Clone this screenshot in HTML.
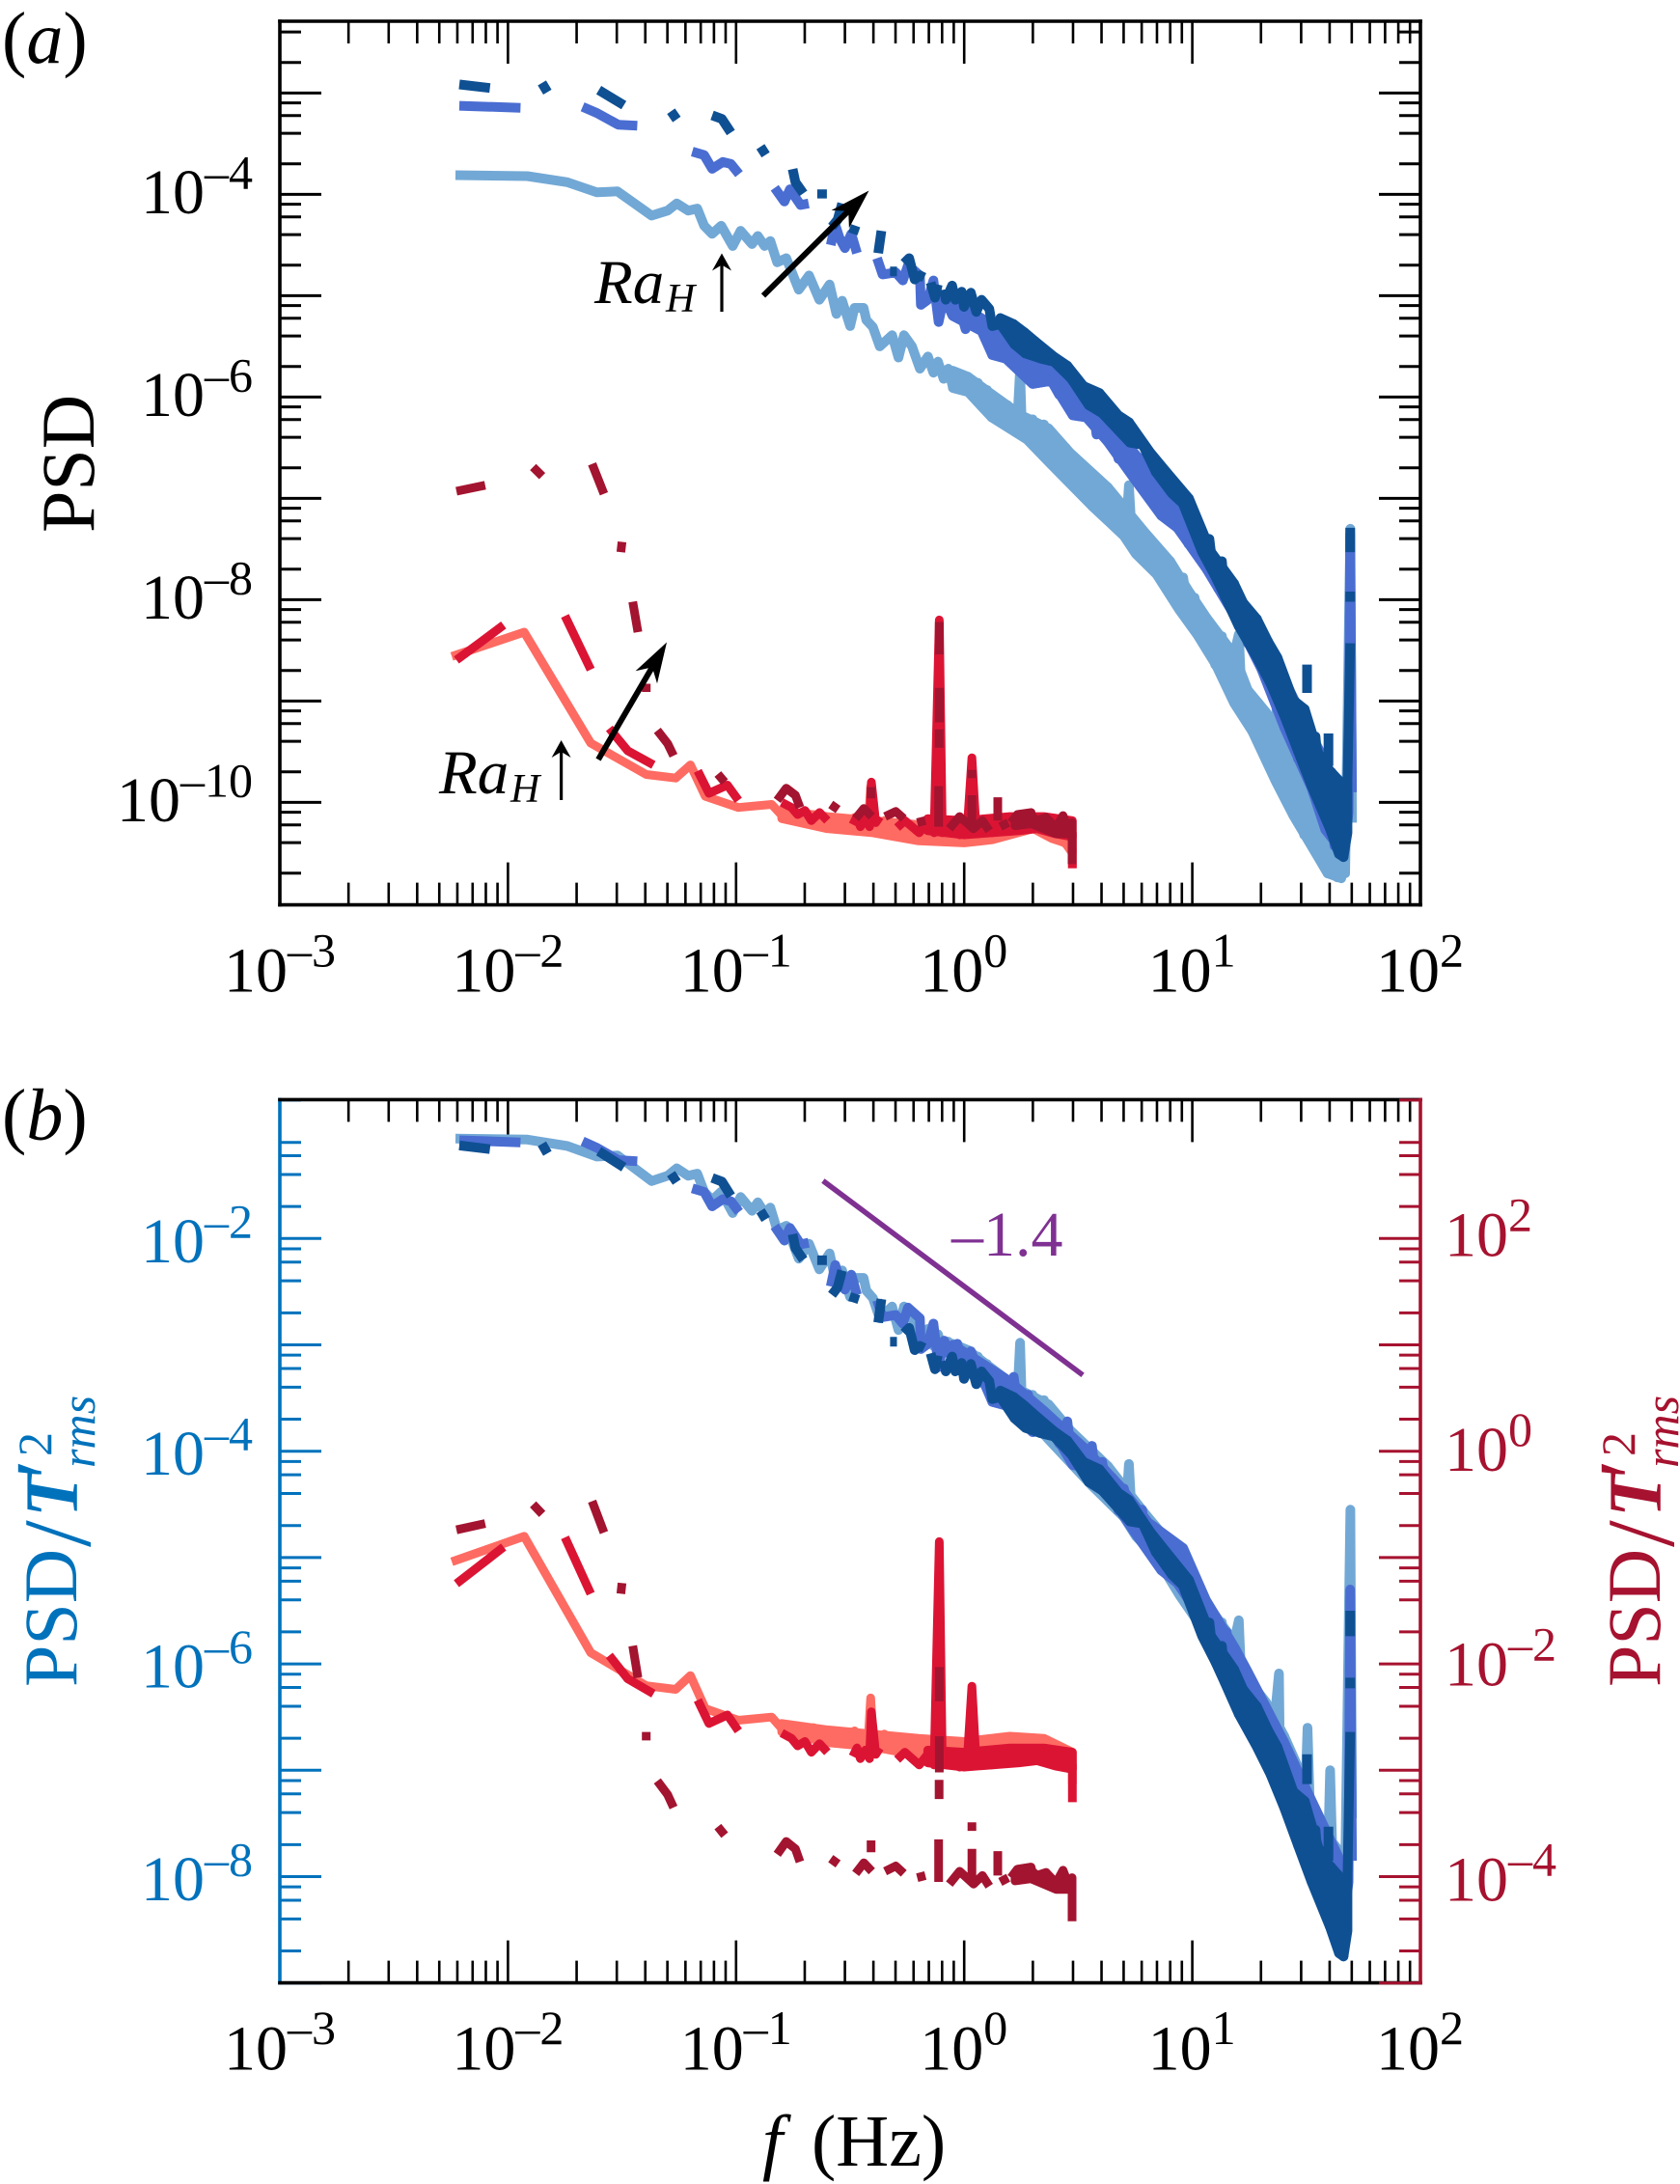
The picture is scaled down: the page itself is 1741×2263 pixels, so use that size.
<!DOCTYPE html>
<html lang="en">
<head>
<meta charset="utf-8">
<title>PSD spectra</title>
<style>
html,body{margin:0;padding:0;background:#fff;}
svg{display:block;}
text{font-family:"Liberation Serif","DejaVu Serif",serif;}
</style>
</head>
<body>
<svg id="chart" xmlns="http://www.w3.org/2000/svg" width="1741" height="2263" viewBox="0 0 1741 2263">
  <rect x="0" y="0" width="1741" height="2263" fill="#fff"/>
  <g id="panelA"></g>
  <g id="panelB"></g>

  <text x="2" y="65" font-size="76" fill="#000">(<tspan font-style="italic">a</tspan>)</text>
  <text x="2" y="1181" font-size="76" fill="#000">(<tspan font-style="italic">b</tspan>)</text>

  <text transform="rotate(-90 97 552)" x="97" y="552" font-size="78" fill="#000">PSD</text>

  <g fill="#0072BC">
    <text transform="rotate(-90 79 1748)" x="79" y="1748" font-size="78">PSD</text>
    <text transform="rotate(-90 93 1603)" x="93" y="1603" font-size="100">/</text>
    <text transform="rotate(-90 80 1572)" x="80" y="1572" font-size="78" font-style="italic" font-weight="bold">T</text>
    <text transform="rotate(-90 78 1532)" x="78" y="1532" font-size="90">′</text>
    <text transform="rotate(-90 53 1509)" x="53" y="1509" font-size="50">2</text>
    <text transform="rotate(-90 98 1521)" x="98" y="1521" font-size="50" font-style="italic">rms</text>
  </g>
  <g fill="#A6122F">
    <text transform="rotate(-90 1720 1748)" x="1720" y="1748" font-size="78">PSD</text>
    <text transform="rotate(-90 1734 1603)" x="1734" y="1603" font-size="100">/</text>
    <text transform="rotate(-90 1721 1572)" x="1721" y="1572" font-size="78" font-style="italic" font-weight="bold">T</text>
    <text transform="rotate(-90 1719 1532)" x="1719" y="1532" font-size="90">′</text>
    <text transform="rotate(-90 1694 1509)" x="1694" y="1509" font-size="50">2</text>
    <text transform="rotate(-90 1739 1521)" x="1739" y="1521" font-size="50" font-style="italic">rms</text>
  </g>

  <text x="790" y="2244" font-size="76" fill="#000"><tspan font-style="italic">f</tspan></text>
  <text x="841" y="2244" font-size="76" fill="#000">(Hz)</text>

  <text x="986" y="1301" font-size="66" fill="#7F3192">–1.4</text>

  <g fill="#000">
    <text x="616" y="314" font-size="65" font-style="italic">Ra</text>
    <text x="690" y="323" font-size="42" font-style="italic">H</text>
  </g>
  <g fill="#000">
    <text x="455" y="822" font-size="65" font-style="italic">Ra</text>
    <text x="529" y="831" font-size="42" font-style="italic">H</text>
  </g>
  <g id="arrows"></g>
</svg>

<script>
// Every pair is [log10 frequency (Hz), log10 PSD]; null marks a gap in a dashed line.
const lightBlueSeries = [
[-2.23,-3.81],[-1.915,-3.82],[-1.74,-3.88],[-1.61,-3.98],[-1.52,-3.97],[-1.37,-4.21],[-1.30,-4.16],[-1.26,-4.09],[-1.21,-4.16],[-1.17,-4.14],[-1.14,-4.31],[-1.105,-4.39],[-1.065,-4.31],[-1.015,-4.51],[-.98,-4.36],[-.93,-4.49],[-.905,-4.41],[-.875,-4.51],[-.85,-4.46],[-.82,-4.67],[-.78,-4.63],[-.725,-4.94],[-.68,-4.80],[-.635,-5.04],[-.59,-4.89],[-.56,-5.18],
[-.535,-5.05],[-.50,-5.30],[-.481,-5.12],[-.441,-5.12],[-.429,-5.24],[-.40,-5.31],[-.37,-5.50],[-.316,-5.39],[-.288,-5.61],[-.264,-5.39],[-.229,-5.50],[-.194,-5.72],[-.159,-5.60],[-.135,-5.76],[-.115,-5.65],[-.09,-5.82],[-.07,-5.72],[-.05,-5.90],[-.03,-5.76],[-.01,-5.93],[.017,-5.80],[.04,-5.95],[.06,-5.86],[.08,-6.08],[.10,-5.93],[.12,-6.20],[.14,-6.02],[.165,-6.22],[.19,-6.08],[.21,-6.28],[.235,-6.15],[.245,-5.73],[.252,-6.25],[.276,-6.42],[.30,-6.22],[.325,-6.50],[.35,-6.27],[.37,-6.62],[.395,-6.40],[.42,-6.68],[.445,-6.50],[.47,-6.78],[.49,-6.62],[.515,-6.92],[.54,-6.75],[.558,-7.05],[.58,-6.80],[.60,-7.08],[.63,-6.89],[.655,-7.20],[.675,-7.02],[.70,-7.35],[.715,-7.12],[.722,-6.87],[.732,-7.25],[.753,-7.48],[.78,-7.35],[.81,-7.62],[.84,-7.52],[.87,-7.78],[.903,-7.62],[.93,-8.02],[.96,-7.78],[.985,-8.16],[1.01,-7.98],[1.03,-8.33],[1.063,-8.18],[1.10,-8.64],[1.13,-8.36],[1.16,-8.82],[1.183,-8.54],[1.204,-8.34],[1.215,-8.90],[1.243,-8.89],[1.263,-9.30],[1.29,-9.02],[1.31,-9.42],[1.323,-9.11],[1.345,-9.62],[1.38,-8.84],[1.385,-9.78],[1.403,-9.43],[1.443,-10.13],[1.463,-9.72],[1.49,-10.32],[1.505,-9.35],[1.515,-10.05],[1.543,-10.51],[1.563,-10.29],[1.593,-10.70],[1.604,-9.75],[1.615,-10.62],[1.635,-10.74],[1.653,-10.58],[1.67,-10.70],[1.693,-7.30],[1.70,-10.2]
];
const mediumBlueSeries = [
[-2.213,-3.126],[-1.945,-3.146],null,
[-1.673,-3.136],[-1.61,-3.197],[-1.516,-3.313],[-1.433,-3.323],null,
[-1.192,-3.578],[-1.14,-3.612],[-1.105,-3.748],[-1.058,-3.68],[-1.023,-3.70],[-.987,-3.80],null,
[-.831,-3.935],[-.788,-4.07],[-.764,-3.95],[-.717,-4.105],[-.682,-4.09],null,
[-.585,-4.50],[-.565,-4.30],[-.5465,-4.43],[-.523,-4.53],[-.495,-4.39],[-.47,-4.58],null,
[-.382,-4.63],[-.358,-4.79],[-.30,-4.77],[-.269,-4.85],[-.246,-4.70],[-.194,-4.80],[-.19,-5.09],[-.159,-5.04],[-.135,-4.85],[-.112,-5.26],[-.088,-5.01],[-.053,-5.19],[-.03,-5.04],[.006,-5.33],[.029,-5.11],[.076,-5.35],[.107,-5.31],[.123,-5.585],[.182,-5.62],[.217,-5.35],[.234,-5.62],[.264,-5.69],[.281,-5.52],[.30,-5.87],[.382,-5.84],[.417,-5.98],[.452,-5.77],[.476,-6.18],[.535,-6.20],[.56,-6.0],[.58,-6.37],[.605,-6.15],[.628,-6.44],[.65,-6.3],[.676,-6.61],[.70,-6.4],[.746,-6.81],[.78,-6.6],[.805,-6.95],[.835,-6.8],[.864,-7.17],[.90,-7.0],[.934,-7.29],[.96,-7.2],[.983,-7.45],[1.02,-7.35],[1.063,-7.70],[1.09,-7.6],[1.113,-7.89],[1.15,-7.75],[1.183,-8.15],[1.21,-8.0],[1.243,-8.43],[1.27,-8.25],[1.303,-8.685],[1.33,-8.5],[1.363,-8.97],[1.385,-8.78],[1.403,-9.26],[1.43,-9.05],[1.463,-9.57],[1.49,-9.3],[1.523,-9.86],[1.55,-9.6],[1.583,-10.27],[1.60,-9.9],[1.623,-10.43],[1.64,-10.1],[1.663,-10.50],[1.685,-10.1],[1.692,-7.35],[1.70,-9.9]
];
const darkBlueSeries = [
[-2.213,-2.915],[-2.079,-2.95],null,
[-1.851,-2.90],[-1.827,-2.99],null,
[-1.602,-2.97],[-1.492,-3.12],null,
[-1.285,-3.18],[-1.26,-3.26],null,
[-1.105,-3.22],[-1.062,-3.255],[-1.023,-3.39],null,
[-.893,-3.53],[-.87,-3.61],null,
[-.752,-3.75],[-.74,-3.88],[-.705,-3.99],null,
[-.623,-3.95],[-.623,-4.04],null,
[-.58,-4.32],[-.555,-4.25],[-.535,-4.09],null,
[-.476,-4.31],[-.488,-4.39],null,
[-.363,-4.36],[-.377,-4.58],null,
[-.325,-4.76],[-.295,-4.76],null,
[-.264,-4.68],[-.241,-4.63],[-.217,-4.84],[-.194,-4.80],[-.175,-4.82],null,
[-.147,-4.87],[-.128,-5.02],[-.116,-4.89],null,
[-.088,-4.94],[-.081,-5.04],[-.053,-4.90],[-.039,-5.04],[-.011,-4.96],[-.001,-5.11],[.029,-4.97],[.053,-5.16],[.076,-5.04],[.11,-5.13],[.123,-5.30],[.158,-5.28],[.217,-5.28],[.22,-5.48],[.264,-5.36],[.268,-5.57],[.311,-5.45],[.335,-5.62],[.393,-5.65],[.452,-5.69],[.469,-5.82],[.523,-5.89],[.546,-6.08],[.593,-5.96],[.605,-6.16],[.676,-6.20],[.723,-6.25],[.726,-6.45],[.782,-6.47],[.817,-6.57],[.84,-6.74],[.887,-6.74],[.91,-6.95],[.958,-7.05],[.985,-7.0],[1.028,-7.25],[1.043,-7.50],[1.075,-7.40],[1.083,-7.55],[1.103,-7.78],[1.13,-7.62],[1.143,-7.97],[1.183,-7.84],[1.203,-8.26],[1.223,-8.03],[1.25,-8.42],[1.283,-8.19],[1.30,-8.62],[1.333,-8.415],[1.343,-8.83],[1.373,-8.57],[1.403,-9.145],[1.443,-8.99],[1.463,-9.495],[1.493,-9.08],[1.523,-9.84],[1.54,-9.35],[1.563,-9.95],[1.575,-9.55],[1.603,-10.26],[1.61,-9.7],[1.643,-10.51],[1.655,-9.9],[1.663,-10.54],[1.68,-9.8],[1.692,-8.43],null,
[1.503,-8.64],[1.503,-8.92],null,
[1.597,-9.32],[1.597,-9.64],null,
[1.692,-7.29],[1.692,-7.53],null,
[1.692,-7.92],[1.692,-8.02]
];
const lightRedSeries = [
[-2.246,-8.56],[-1.929,-8.32],[-1.637,-9.415],[-1.394,-9.725],[-1.265,-9.76],[-1.20,-9.63],[-1.135,-9.94],[-.99,-10.05],[-.844,-10.02],[-.795,-10.14],[-.698,-10.16],[-.66,-10.12],[-.601,-10.22],[-.57,-10.15],[-.52,-10.2],[-.48,-10.15],[-.456,-10.24],[-.42,-10.2],[-.41,-9.84],[-.40,-10.2],[-.391,-10.25],[-.35,-10.18],[-.326,-10.29],[-.28,-10.22],[-.229,-10.36],[-.19,-10.28],[-.132,-10.38],[-.115,-10.30],[-.109,-8.9],[-.103,-10.32],[-.06,-10.38],[-.02,-10.30],[.02,-10.38],[.06,-10.34],[.10,-10.36],[.15,-10.30],[.20,-10.28],[.25,-10.24],[.30,-10.26],[.36,-10.30],[.40,-10.36],[.44,-10.40],[.474,-10.46],[.474,-10.65]
];
const mediumRedSeries = [
[-2.226,-8.595],[-2.12,-8.42],[-2.019,-8.25],null,
[-1.75,-8.16],[-1.637,-8.69],null,
[-1.556,-9.27],[-1.475,-9.49],[-1.362,-9.63],null,
[-1.168,-9.69],[-1.119,-9.91],[-1.038,-9.83],[-.99,-9.98],null,
[-.80,-10.0],[-.757,-10.05],[-.73,-10.12],[-.698,-10.08],[-.67,-10.18],[-.634,-10.10],[-.6,-10.18],null,
[-.488,-10.22],[-.47,-10.14],[-.455,-10.24],[-.433,-10.16],[-.415,-10.24],[-.407,-9.80],[-.388,-10.20],[-.37,-10.14],null,
[-.294,-10.25],[-.26,-10.18],[-.197,-10.30],[-.16,-10.20],[-.132,-10.30],[-.109,-8.20],[-.096,-10.30],[-.051,-10.18],[-.02,-10.32],[.014,-10.24],[.034,-9.56],[.053,-10.30],[.09,-10.18],[.12,-10.30],[.16,-10.20],[.208,-10.28],[.25,-10.18],[.305,-10.26],[.35,-10.16],[.402,-10.30],[.44,-10.22],[.474,-10.30],[.474,-10.65]
];
const darkRedSeries = [
[-2.226,-6.93],[-2.10,-6.87],null,
[-1.89,-6.69],[-1.85,-6.78],null,
[-1.631,-6.66],[-1.579,-6.955],null,
[-1.50,-7.43],[-1.505,-7.53],null,
[-1.453,-8.02],[-1.43,-8.32],null,
[-1.394,-8.83],[-1.394,-8.91],null,
[-1.345,-9.29],[-1.30,-9.42],[-1.274,-9.54],null,
[-1.08,-9.72],[-1.05,-9.80],null,
[-.82,-9.98],[-.78,-9.86],[-.74,-9.93],[-.72,-10.05],null,
[-.585,-10.02],[-.553,-10.07],null,
[-.476,-10.16],[-.44,-10.06],[-.405,-10.14],null,
[-.408,-9.85],[-.408,-9.96],null,
[-.347,-10.14],[-.30,-10.09],[-.265,-10.16],null,
[-.206,-10.20],[-.17,-10.18],null,
[-.112,-9.84],[-.112,-10.24],null,
[-.109,-8.22],[-.109,-8.54],null,
[-.109,-8.87],[-.109,-9.21],null,
[-.11,-9.28],[-.11,-9.46],null,
[-.065,-10.26],[-.02,-10.14],[.041,-10.26],[.08,-10.18],[.11,-10.28],null,
[.034,-9.68],[.034,-9.76],null,
[.034,-9.93],[.034,-10.22],null,
[.147,-9.95],[.147,-10.18],null,
[.158,-10.24],[.193,-10.20],null,
[.205,-10.20],[.233,-10.12],[.293,-10.10],[.303,-10.19],[.359,-10.15],[.393,-10.27],[.433,-10.16],[.447,-10.30],[.473,-10.25],[.473,-10.61]
];

// Envelopes of the noisy high-frequency parts, where the traces merge into solid bands.
const lightBlueBandUpper = [[-.05,-5.74],[.017,-5.80],[.12,-5.97],[.25,-6.18],[.37,-6.31],[.464,-6.55],[.63,-6.89],[.79,-7.33],[.903,-7.62],[.983,-7.91],[1.063,-8.18],[1.183,-8.54],[1.243,-8.89],[1.323,-9.11],[1.403,-9.43],[1.463,-9.72],[1.563,-10.29],[1.663,-10.56]];
const lightBlueBandLower = [[-.05,-5.91],[.017,-5.95],[.12,-6.20],[.276,-6.42],[.37,-6.64],[.558,-7.07],[.70,-7.37],[.753,-7.55],[.843,-7.75],[.943,-8.10],[1.023,-8.35],[1.103,-8.64],[1.183,-9.02],[1.263,-9.30],[1.363,-9.78],[1.443,-10.13],[1.543,-10.51],[1.593,-10.70],[1.653,-10.75]];
const mediumBlueBandUpper = [[-.05,-5.05],[.097,-5.25],[.198,-5.39],[.35,-5.67],[.528,-6.02],[.68,-6.37],[.807,-6.72],[.96,-6.96],[1.06,-7.45],[1.187,-7.90],[1.24,-8.11],[1.404,-8.79],[1.52,-9.32],[1.64,-9.86]];
const mediumBlueBandLower = [[-.05,-5.20],[.076,-5.35],[.123,-5.585],[.182,-5.62],[.30,-5.87],[.382,-5.84],[.476,-6.18],[.535,-6.20],[.628,-6.44],[.746,-6.81],[.864,-7.17],[.934,-7.29],[1.063,-7.70],[1.183,-8.15],[1.303,-8.685],[1.403,-9.26],[1.523,-9.86],[1.583,-10.27],[1.663,-10.50]];
const darkBlueBandUpper = [[.158,-5.22],[.217,-5.28],[.264,-5.36],[.311,-5.45],[.393,-5.60],[.452,-5.69],[.523,-5.89],[.593,-5.96],[.676,-6.18],[.723,-6.25],[.817,-6.55],[.887,-6.74],[.985,-7.0],[1.083,-7.53],[1.183,-7.84],[1.223,-8.03],[1.283,-8.19],[1.333,-8.415],[1.373,-8.57],[1.443,-8.99],[1.493,-9.08],[1.523,-9.30],[1.563,-9.59],[1.65,-9.8],[1.68,-9.8]];
const darkBlueBandLower = [[.158,-5.28],[.22,-5.48],[.268,-5.57],[.335,-5.62],[.393,-5.65],[.469,-5.82],[.546,-6.08],[.605,-6.16],[.726,-6.45],[.782,-6.47],[.84,-6.74],[.91,-6.95],[.958,-7.05],[1.043,-7.53],[1.103,-7.78],[1.143,-7.97],[1.203,-8.26],[1.283,-8.57],[1.343,-8.83],[1.403,-9.145],[1.463,-9.495],[1.523,-9.84],[1.603,-10.26],[1.643,-10.51],[1.663,-10.54],[1.68,-10.3]];
const lightRedBandUpper = [[-.8,-10.08],[-.6,-10.14],[-.4,-10.18],[-.2,-10.22],[0,-10.25],[.2,-10.2],[.35,-10.22],[.474,-10.35]];
const lightRedBandLower = [[-.8,-10.16],[-.6,-10.26],[-.4,-10.3],[-.2,-10.38],[0,-10.40],[.123,-10.37],[.203,-10.32],[.303,-10.26],[.383,-10.355],[.443,-10.40],[.474,-10.50]];
const mediumRedBandUpper = [[-.16,-10.16],[0,-10.18],[.2,-10.14],[.35,-10.14],[.474,-10.18]];
const mediumRedBandLower = [[-.16,-10.28],[0,-10.32],[.24,-10.28],[.32,-10.26],[.40,-10.31],[.474,-10.34]];
const darkRedBandUpper = [[.223,-10.205],[.293,-10.13],[.333,-10.205],[.363,-10.16],[.403,-10.25],[.433,-10.13],[.453,-10.24],[.473,-10.20]];
const darkRedBandLower = [[.223,-10.23],[.293,-10.21],[.403,-10.31],[.473,-10.31]];

// Vertical offset between panel (a) and panel (b): log10 of 1 / T'rms^2 for each run.
const blueRmsShift = [2.75, 2.05, 1.79];
const redRmsShift = [7.52, 7.35, 6.19];

// Reference slope in panel (b): endpoints as [log10 f, log10 left-axis value].
const slopeLine = [[-.619,-1.457],[.52,-3.284]];

const xTickExponents = [-3,-2,-1,0,1,2];
const xTickLabels = ['–3','–2','–1','0','1','2'];
const panelAYExponents = [-4,-6,-8,-10];
const panelAYLabels = ['–4','–6','–8','–10'];
const panelBLeftExponents = [-2,-4,-6,-8];
const panelBLeftLabels = ['–2','–4','–6','–8'];
const panelBRightExponents = [2,0,-2,-4];
const panelBRightLabels = ['2','0','–2','–4'];

const NS = 'http://www.w3.org/2000/svg';
const lightBlue = '#72A8D5', mediumBlue = '#4A6DD2', darkBlue = '#0F5093';
const lightRed = '#FE6B62', mediumRed = '#DC1434', darkRed = '#A31430';
const axisBlue = '#0072BC', axisRed = '#A6122F';

function add(parent, tag, attrs) {
  const el = document.createElementNS(NS, tag);
  for (const k in attrs) el.setAttribute(k, attrs[k]);
  parent.appendChild(el);
  return el;
}

// Shared x axis
const X_LEFT = 290, X_RIGHT = 1472, X_DECADE = 236.4;
function xScale(logF) { return X_LEFT + (logF + 3) * X_DECADE; }

// Panel (a) y axis
const A_TOP = 22, A_BOTTOM = 937.6;
function yA(logP) { return 96.4 + (-3 - logP) * 105; }

// Panel (b) y axes
const B_TOP = 1139.4, B_BOTTOM = 2054.6, B_DECADE = 110.2;
function yBLeft(logP) { return 1283.3 + (-2 - logP) * B_DECADE; }
function yBRight(logP) { return 1283.3 + (2 - logP) * B_DECADE; }

function pathFrom(series, yFn, shift) {
  let d = '', pen = false;
  for (const p of series) {
    if (p === null) { pen = false; continue; }
    d += (pen ? 'L' : 'M') + xScale(p[0]).toFixed(1) + ' ' + yFn(p[1] + shift).toFixed(1);
    pen = true;
  }
  return d;
}

function drawSeries(parent, series, yFn, shift, color, width, name) {
  const el = add(parent, 'path', {
    d: pathFrom(series, yFn, shift), fill: 'none', stroke: color,
    'stroke-width': width, 'stroke-linejoin': 'round', 'stroke-linecap': 'butt'
  });
  
  
}

function drawBand(parent, upper, lower, yFn, shift, color, width, name) {
  const outline = upper.concat(lower.slice().reverse());
  const el = add(parent, 'path', {
    d: pathFrom(outline, yFn, shift) + 'Z', fill: color, stroke: color,
    'stroke-width': width, 'stroke-linejoin': 'round'
  });
  
  
}

function tickLine(parent, x1, y1, x2, y2, color, width, name) {
  const el = add(parent, 'line', { x1, y1, x2, y2, stroke: color, 'stroke-width': width });
  
  
}

function drawXTicks(parent, top, bottom) {
  for (let e = -3; e <= 1; e++) {
    for (let m = 2; m <= 9; m++) {
      const x = xScale(e + Math.log10(m));
      tickLine(parent, x, top, x, top + 23, '#000', 2.6, 'x-minor-tick-top');
      tickLine(parent, x, bottom, x, bottom - 23, '#000', 2.6, 'x-minor-tick-bottom');
    }
    if (e > -3) {
      const x = xScale(e);
      tickLine(parent, x, top, x, top + 44, '#000', 2.6, 'x-major-tick-top');
      tickLine(parent, x, bottom, x, bottom - 44, '#000', 2.6, 'x-major-tick-bottom');
    }
  }
}

function drawYTicks(parent, yFn, decadeFrom, decadeTo, skipMajorAbove, top, bottom, side, color) {
  const edge = side === 'left' ? X_LEFT : X_RIGHT;
  const dir = side === 'left' ? 1 : -1;
  for (let e = decadeFrom; e >= decadeTo; e--) {
    const yMaj = yFn(e);
    if (yMaj >= top - 1 && yMaj <= bottom + 1 && e <= skipMajorAbove) {
      tickLine(parent, edge, yMaj, edge + dir * 43, yMaj, color, 3, side + '-y-major-tick');
    }
    for (const m of [2, 4, 6, 8]) {
      const y = yFn(e + Math.log10(m));
      if (y >= top - 1 && y <= bottom + 1) {
        tickLine(parent, edge, y, edge + dir * 22, y, color, 3, side + '-y-minor-tick');
      }
    }
  }
}

function powerLabel(parent, x, baseline, supBaseline, label, color, name) {
  const base = add(parent, 'text', { x, y: baseline, 'font-size': 66, fill: color });
  base.textContent = '10';
  
  
  const sup = add(parent, 'text', { x: x + 66, y: supBaseline, 'font-size': 50, fill: color });
  sup.textContent = label;
  
  
}

function drawXLabels(parent, baseline, supBaseline) {
  xTickExponents.forEach((e, i) => {
    const x = xScale(e) + (e < 0 ? -58 : -46);
    powerLabel(parent, x, baseline, supBaseline, xTickLabels[i], '#000', 'x-tick-label');
  });
}

function spine(parent, x1, y1, x2, y2, color, name) {
  const el = add(parent, 'line', { x1, y1, x2, y2, stroke: color, 'stroke-width': 3.6, 'stroke-linecap': 'square' });
  
  
}

/* ---------- Panel (a) ---------- */
const gA = document.getElementById('panelA');
drawXTicks(gA, A_TOP, A_BOTTOM);
drawYTicks(gA, yA, -2, -11, -3, A_TOP, 934, 'left', '#000');
drawYTicks(gA, yA, -2, -11, -3, A_TOP, 934, 'right', '#000');
drawBand(gA, lightBlueBandUpper, lightBlueBandLower, yA, 0, lightBlue, 10, 'psd-light-blue-band');
drawSeries(gA, lightBlueSeries, yA, 0, lightBlue, 10, 'psd-light-blue');
drawBand(gA, mediumBlueBandUpper, mediumBlueBandLower, yA, 0, mediumBlue, 10, 'psd-medium-blue-band');
drawSeries(gA, mediumBlueSeries, yA, 0, mediumBlue, 10, 'psd-medium-blue');
drawBand(gA, darkBlueBandUpper, darkBlueBandLower, yA, 0, darkBlue, 10, 'psd-dark-blue-band');
drawSeries(gA, darkBlueSeries, yA, 0, darkBlue, 10, 'psd-dark-blue');
drawBand(gA, lightRedBandUpper, lightRedBandLower, yA, 0, lightRed, 9, 'psd-light-red-band');
drawSeries(gA, lightRedSeries, yA, 0, lightRed, 9, 'psd-light-red');
drawBand(gA, mediumRedBandUpper, mediumRedBandLower, yA, 0, mediumRed, 9, 'psd-medium-red-band');
drawSeries(gA, mediumRedSeries, yA, 0, mediumRed, 9, 'psd-medium-red');
drawBand(gA, darkRedBandUpper, darkRedBandLower, yA, 0, darkRed, 9, 'psd-dark-red-band');
drawSeries(gA, darkRedSeries, yA, 0, darkRed, 9, 'psd-dark-red');
spine(gA, X_LEFT, A_TOP, X_RIGHT, A_TOP, '#000', 'panel-a-top-spine');
spine(gA, X_LEFT, A_BOTTOM, X_RIGHT, A_BOTTOM, '#000', 'panel-a-bottom-spine');
spine(gA, X_LEFT, A_TOP, X_LEFT, A_BOTTOM, '#000', 'panel-a-left-spine');
spine(gA, X_RIGHT, A_TOP, X_RIGHT, A_BOTTOM, '#000', 'panel-a-right-spine');
drawXLabels(gA, 1027.5, 1001.5);
panelAYExponents.forEach((e, i) => {
  const label = panelAYLabels[i];
  powerLabel(gA, 146 - (label.length - 2) * 25, yA(e) + 19.5, yA(e) - 6, label, '#000', 'panel-a-y-tick-label');
});

/* ---------- Panel (b) ---------- */
const gB = document.getElementById('panelB');
drawXTicks(gB, B_TOP, B_BOTTOM);
drawYTicks(gB, yBLeft, -1, -9, -2, B_TOP, B_BOTTOM, 'left', axisBlue);
spine(gB, X_LEFT, B_TOP, X_LEFT, B_BOTTOM, axisBlue, 'panel-b-left-spine');
drawBand(gB, lightBlueBandUpper, lightBlueBandLower, yBLeft, blueRmsShift[0], lightBlue, 10, 'normalised-light-blue-band');
drawSeries(gB, lightBlueSeries, yBLeft, blueRmsShift[0], lightBlue, 10, 'normalised-light-blue');
drawBand(gB, mediumBlueBandUpper, mediumBlueBandLower, yBLeft, blueRmsShift[1], mediumBlue, 10, 'normalised-medium-blue-band');
drawSeries(gB, mediumBlueSeries, yBLeft, blueRmsShift[1], mediumBlue, 10, 'normalised-medium-blue');
drawBand(gB, darkBlueBandUpper, darkBlueBandLower, yBLeft, blueRmsShift[2], darkBlue, 10, 'normalised-dark-blue-band');
drawSeries(gB, darkBlueSeries, yBLeft, blueRmsShift[2], darkBlue, 10, 'normalised-dark-blue');
drawBand(gB, lightRedBandUpper, lightRedBandLower, yBRight, redRmsShift[0], lightRed, 9, 'normalised-light-red-band');
drawSeries(gB, lightRedSeries, yBRight, redRmsShift[0], lightRed, 9, 'normalised-light-red');
drawBand(gB, mediumRedBandUpper, mediumRedBandLower, yBRight, redRmsShift[1], mediumRed, 9, 'normalised-medium-red-band');
drawSeries(gB, mediumRedSeries, yBRight, redRmsShift[1], mediumRed, 9, 'normalised-medium-red');
drawBand(gB, darkRedBandUpper, darkRedBandLower, yBRight, redRmsShift[2], darkRed, 9, 'normalised-dark-red-band');
drawSeries(gB, darkRedSeries, yBRight, redRmsShift[2], darkRed, 9, 'normalised-dark-red');
drawSeries(gB, slopeLine, yBLeft, 0, '#7F3192', 5.5, 'slope-reference-line');
spine(gB, X_LEFT, B_TOP, X_RIGHT, B_TOP, '#000', 'panel-b-top-spine');
spine(gB, X_LEFT, B_BOTTOM, X_RIGHT, B_BOTTOM, '#000', 'panel-b-bottom-spine');
drawYTicks(gB, yBRight, 3, -5, 2, B_TOP, B_BOTTOM, 'right', axisRed);
spine(gB, X_RIGHT, B_TOP, X_RIGHT, B_BOTTOM, axisRed, 'panel-b-right-spine');
drawXLabels(gB, 2144.5, 2118);
panelBLeftExponents.forEach((e, i) => {
  powerLabel(gB, 146, yBLeft(e) + 24.5, yBLeft(e) - 1, panelBLeftLabels[i], axisBlue, 'panel-b-left-tick-label');
});
panelBRightExponents.forEach((e, i) => {
  const off = 18 + i * 2.3;
  powerLabel(gB, 1497, yBRight(e) + off, yBRight(e) + off - 26, panelBRightLabels[i], axisRed, 'panel-b-right-tick-label');
});

/* ---------- Arrows ---------- */
const gArrows = document.getElementById('arrows');
function arrow(x1, y1, x2, y2, w, headLen, headHalf, notch, name) {
  const len = Math.hypot(x2 - x1, y2 - y1);
  const ux = (x2 - x1) / len, uy = (y2 - y1) / len;
  const nx = -uy, ny = ux;
  const bx = x2 - ux * notch, by = y2 - uy * notch;
  const shaft = add(gArrows, 'line', { x1, y1, x2: bx, y2: by, stroke: '#000', 'stroke-width': w });
  
  
  const pts = [
    [x2, y2],
    [x2 - ux * headLen + nx * headHalf, y2 - uy * headLen + ny * headHalf],
    [bx, by],
    [x2 - ux * headLen - nx * headHalf, y2 - uy * headLen - ny * headHalf]
  ].map(p => p[0].toFixed(1) + ',' + p[1].toFixed(1)).join(' ');
  const head = add(gArrows, 'polygon', { points: pts, fill: '#000' });
  
  
}
arrow(791, 306.4, 900.5, 197.5, 6, 42, 13, 30, 'blue-trend-arrow');
arrow(620, 787, 691, 665.5, 6, 42, 13, 30, 'red-trend-arrow');
arrow(748, 323, 748, 262.5, 3.2, 18, 10, 12, 'blue-rayleigh-up-arrow');
arrow(581.6, 829, 581.6, 767, 3.2, 18, 10, 12, 'red-rayleigh-up-arrow');
</script>
</body>
</html>
